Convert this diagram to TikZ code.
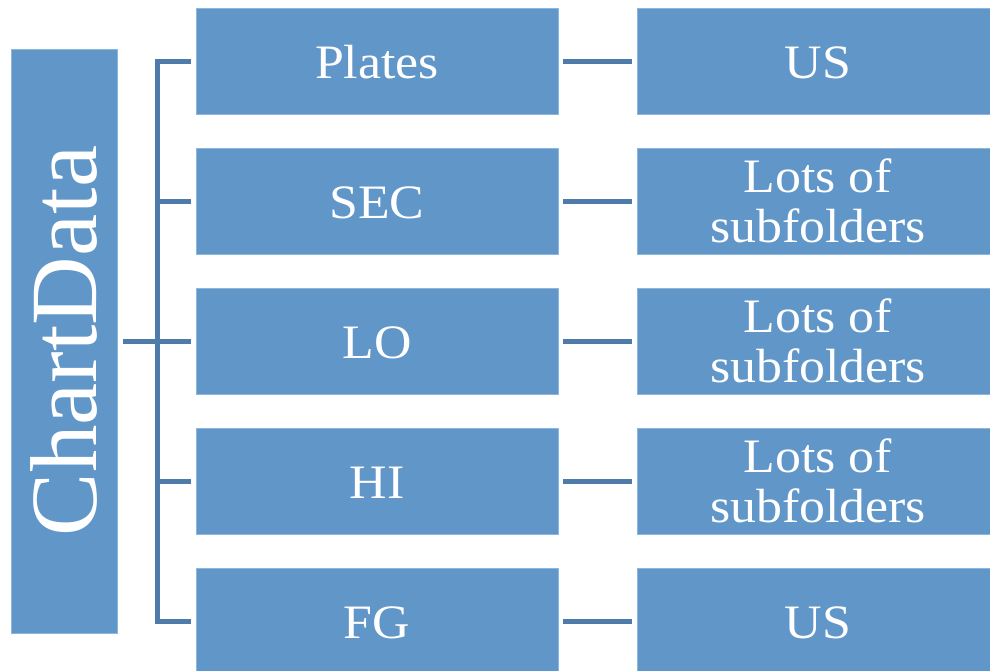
\documentclass[tikz,border=0pt]{standalone}
\usepackage{fontspec}
\setmainfont{Liberation Serif}
\newfontfamily\labelfont[FakeStretch=1.08]{Liberation Serif}
\definecolor{boxfill}{HTML}{6196C9}
\definecolor{boxedge}{HTML}{8DB6DF}
\definecolor{linkblue}{HTML}{4F7BAA}
\tikzset{
  x=1pt, y=-1pt,
  folder/.style={rectangle, fill=boxfill, draw=boxedge, line width=0.8pt,
    minimum width=362pt, minimum height=106pt, inner sep=0pt,
    text=white, font=\labelfont\fontsize{48}{50}\selectfont, align=center},
  oneline/.style={folder, text height=34pt, text depth=0pt},
  rootbox/.style={rectangle, fill=boxfill, draw=boxedge, line width=0.8pt,
    minimum width=106pt, minimum height=584pt, inner sep=0pt,
    text=white, font=\fontsize{95}{100}\selectfont},
  link/.style={draw=linkblue, line width=5pt}
}
\begin{document}
\begin{tikzpicture}
\useasboundingbox (0,0) rectangle (990,670);
\clip (0,0) rectangle (990,670);

% root folder
\node[rootbox] (root) at (64,341) {\rotatebox{90}{ChartData}};

% first level
\node[oneline] (m1) at (377,61)  {Plates};
\node[oneline] (m2) at (377,201) {SEC};
\node[oneline] (m3) at (377,341) {LO};
\node[oneline] (m4) at (377,481) {HI};
\node[oneline] (m5) at (377,621) {FG};

% second level
\node[oneline] (r1) at (818,61)  {US};
\node[folder]  (r2) at (818,201) {Lots of\\subfolders};
\node[folder]  (r3) at (818,341) {Lots of\\subfolders};
\node[folder]  (r4) at (818,481) {Lots of\\subfolders};
\node[oneline] (r5) at (818,621) {US};

% bracket from the root to the first level
\coordinate (bus) at (157,341);
\draw[link] ([xshift=6pt]root.east) -- ([xshift=-5pt]m3.west);
\draw[link] ([xshift=-5pt]m1.west) -| (bus);
\draw[link] ([xshift=-5pt]m2.west) -| (bus);
\draw[link] ([xshift=-5pt]m4.west) -| (bus);
\draw[link] ([xshift=-5pt]m5.west) -| (bus);

% links to the second level
\foreach \i in {1,...,5}
  \draw[link] ([xshift=5pt]m\i.east) -- ([xshift=-5pt]r\i.west);
\end{tikzpicture}
\end{document}
